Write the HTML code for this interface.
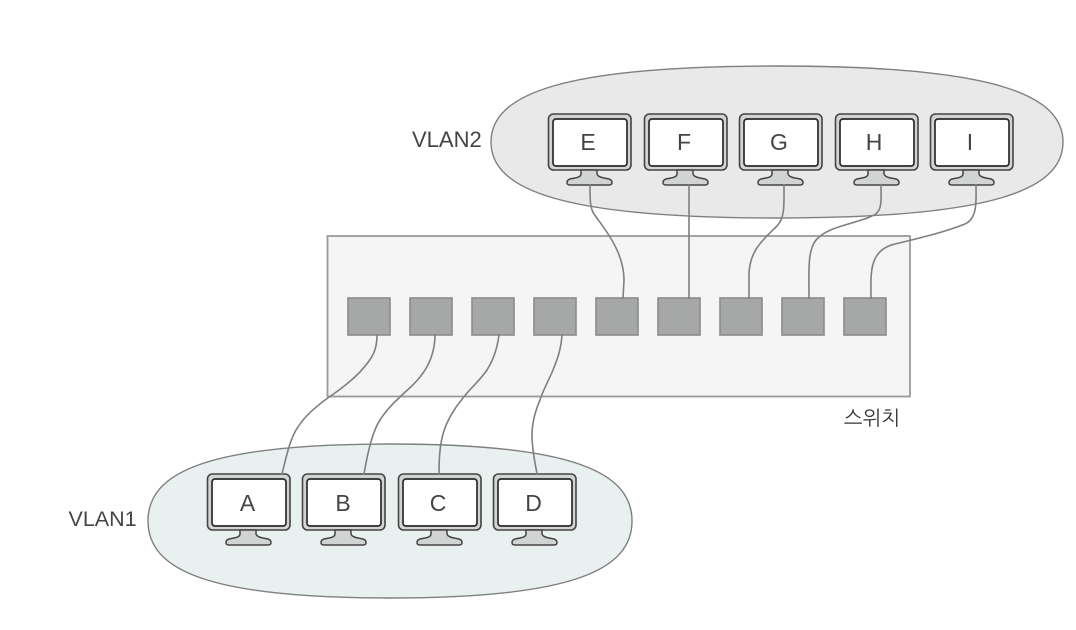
<!DOCTYPE html>
<html>
<head>
<meta charset="utf-8">
<style>
html,body{margin:0;padding:0;background:#fff;width:1076px;height:630px;overflow:hidden}
svg{display:block}
text{font-family:"Liberation Sans","NanumGothic","Noto Sans CJK KR",sans-serif;fill:#444}
.w{fill:none;stroke:#7f7f7f;stroke-width:1.6;stroke-linecap:round}
.p{fill:#a6a8a7;stroke:#8b8b8b;stroke-width:1.6}
.l{font-size:23px;text-anchor:middle}
</style>
</head>
<body>
<svg width="1076" height="630" viewBox="0 0 1076 630" xmlns="http://www.w3.org/2000/svg">
<defs>
<g id="m">
  <rect x="0.500" y="0" width="82.500" height="56" rx="5" fill="#d2d4d3" stroke="#444" stroke-width="1.6"/>
  <rect x="5" y="5" width="74" height="47" rx="3" fill="#fff" stroke="#2a2a2a" stroke-width="1.7"/>
  <path d="M33 56L49 56L49 60Q50 63 56 64L61 65Q64 66 64 68.500Q64 71 61 71L22 71Q19 71 19 68.500Q19 66 22 65L27 64Q33 63 33 60Z" fill="#d2d4d3" stroke="#444" stroke-width="1.5"/>
</g>
</defs>

<path d="M491 142C491 94 562 66 777 66C992 66 1063 94 1063 142C1063 190 992 218 777 218C562 218 491 190 491 142Z" fill="#e9e9e9" stroke="#7f7f7f" stroke-width="1.4"/>
<path d="M148 521C148 473 205 444 390 444C575 444 632 473 632 521C632 569 575 598 390 598C205 598 148 569 148 521Z" fill="#e9f0f0" stroke="#7f7f7f" stroke-width="1.4"/>
<rect x="327.500" y="236" width="582.500" height="160.500" fill="#f5f5f5" stroke="#9a9a9a" stroke-width="1.8"/>

<rect class="p" x="348" y="298" width="42" height="37"/>
<rect class="p" x="410" y="298" width="42" height="37"/>
<rect class="p" x="472" y="298" width="42" height="37"/>
<rect class="p" x="534" y="298" width="42" height="37"/>
<rect class="p" x="596" y="298" width="42" height="37"/>
<rect class="p" x="658" y="298" width="42" height="37"/>
<rect class="p" x="720" y="298" width="42" height="37"/>
<rect class="p" x="782" y="298" width="42" height="37"/>
<rect class="p" x="844" y="298" width="42" height="37"/>

<use href="#m" x="548" y="114"/>
<use href="#m" x="644" y="114"/>
<use href="#m" x="739" y="114"/>
<use href="#m" x="835" y="114"/>
<use href="#m" x="930" y="114"/>
<use href="#m" x="207" y="474"/>
<use href="#m" x="302" y="474"/>
<use href="#m" x="398" y="474"/>
<use href="#m" x="493" y="474"/>

<path class="w" d="M590 185C590 200 590 208 594 214C602 226 624 250 624 280L623 298"/>
<path class="w" d="M689 185L689 298"/>
<path class="w" d="M784 185C784 205 785 218 777 226C765 238 749 250 749 275L749 298"/>
<path class="w" d="M881 185C881 200 883 212 872 216C855 224 830 226 818 238C807 248 809 270 809 298"/>
<path class="w" d="M976 185C976 200 978 218 965 224C945 232 920 238 895 244C868 250 871 275 871 298"/>

<path class="w" d="M377 335C377 345 375 352 371 358C362 372 350 382 335 393C320 403 306 414 298 427C290 438 286 458 282 474"/>
<path class="w" d="M435 335C435 350 430 365 420 377C412 387 408 389 400 397C390 406 385 412 380 420C372 432 367 456 364 474"/>
<path class="w" d="M499 335C497 350 493 360 487 370C480 380 474 385 467 393C458 404 452 412 447 423C440 438 439 456 439 474"/>
<path class="w" d="M562 335C561 350 557 360 553 370C548 382 543 390 540 400C534 414 532 425 532 435C532 450 535 462 537 474"/>

<text x="412" y="147" font-size="22">VLAN2</text>
<text x="68.500" y="526" font-size="21.500">VLAN1</text>
<text x="872" y="425" font-size="20" text-anchor="middle" style="fill:#333">스위치</text>

<text class="l" x="588" y="150">E</text>
<text class="l" x="684" y="150">F</text>
<text class="l" x="779" y="150">G</text>
<text class="l" x="874" y="150">H</text>
<text class="l" x="970" y="150">I</text>
<text class="l" x="247.500" y="511">A</text>
<text class="l" x="343" y="511">B</text>
<text class="l" x="438" y="511">C</text>
<text class="l" x="533.500" y="511">D</text>
</svg>
</body>
</html>
